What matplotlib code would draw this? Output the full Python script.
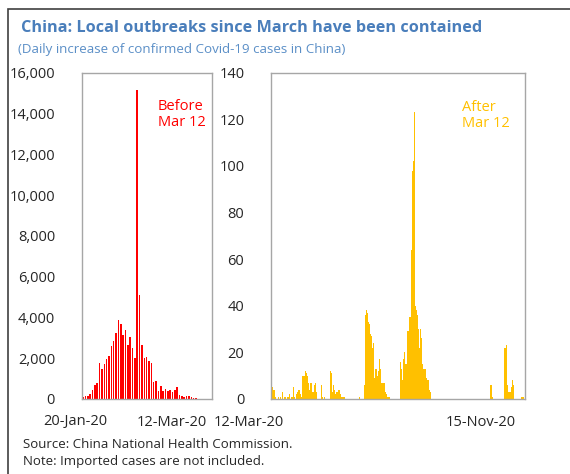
import matplotlib
matplotlib.use("Agg")
import matplotlib.pyplot as plt
from matplotlib.patches import Rectangle
from matplotlib.ticker import FuncFormatter

plt.rcParams['font.family'] = ['Open Sans', 'DejaVu Sans']

# ---- data ----
# Daily increase of confirmed cases, 20-Jan-20 .. 11-Mar-20
before_values = [77, 149, 131, 259, 444, 688, 769, 1771, 1459, 1737, 1982, 2102,
                 2590, 2829, 3235, 3887, 3694, 3143, 3399, 2656, 3062, 2478, 2015,
                 15152, 5090, 2641, 2009, 2048, 1886, 1749, 820, 889, 397, 648, 409,
                 508, 406, 433, 327, 427, 573, 202, 125, 119, 139, 143, 99, 44, 40,
                 19, 24, 15]
# Daily increase of local cases, 12-Mar-20 .. 14-Nov-20 (248 days)
after_values = [
    5, 5, 4, 4, 1, 0, 0, 1, 0, 1, 0, 3, 0, 1, 1, 0, 1, 1, 2, 0,        # 0-19
    1, 1, 5, 1, 0, 2, 3, 4, 4, 2, 1, 10, 10, 12, 11, 10, 7, 4, 7, 7,  # 20-39
    3, 3, 6, 7, 3, 0, 0, 0, 0, 6, 1, 0, 1, 0, 0, 0, 0, 0, 12, 11,    # 40-59
    3, 6, 4, 2, 3, 3, 4, 4, 2, 1, 1, 1, 0, 0, 0, 0, 0, 0, 0, 0,      # 60-79
    0, 0, 0, 0, 0, 0, 1, 0, 0, 0, 0, 6, 36, 38, 37, 33, 32, 28, 27, 22,  # 80-99
    24, 9, 13, 13, 10, 12, 17, 13, 7, 7, 7, 3, 2, 1, 1, 1, 0, 0, 0, 0,   # 100-119
    0, 0, 0, 0, 0, 0, 16, 13, 8, 17, 20, 15, 15, 29, 29, 35, 35, 64, 98, 102,  # 120-139
    123, 40, 38, 36, 30, 22, 30, 26, 15, 13, 13, 9, 8, 8, 4, 3, 0, 0, 0, 0,    # 140-159
    0, 0, 0, 0, 0, 0, 0, 0, 0, 0, 0, 0, 0, 0, 0, 0, 0, 0, 0, 0,      # 160-179
    0, 0, 0, 0, 0, 0, 0, 0, 0, 0, 0, 0, 0, 0, 0, 0, 0, 0, 0, 0,      # 180-199
    0, 0, 0, 0, 0, 0, 0, 0, 0, 0, 0, 0, 0, 0, 6, 6, 1, 0, 0, 0,      # 200-219
    0, 0, 0, 0, 0, 0, 0, 0, 22, 23, 6, 3, 3, 3, 5, 8, 6, 0, 0, 0,    # 220-239
    0, 0, 0, 0, 1, 1, 1, 0,                                          # 240-247
]
left_yticks = [0, 2000, 4000, 6000, 8000, 10000, 12000, 14000, 16000]
right_yticks = [0, 20, 40, 60, 80, 100, 120, 140]

title = "China: Local outbreaks since March have been contained"
subtitle = "(Daily increase of confirmed Covid-19 cases in China)"
left_xlabels = ["20-Jan-20", "12-Mar-20"]
right_xlabels = ["12-Mar-20", "15-Nov-20"]
notes = ["Source: China National Health Commission.",
         "Note: Imported cases are not included."]

# ---- figure ----
W, H = 570, 474
fig = plt.figure(figsize=(W / 100, H / 100), dpi=100)

def fx(px):
    return px / W

def fy(py):
    return 1 - py / H

# outer border (extends beyond the image on the right and bottom)
fig.add_artist(Rectangle((fx(7.5), fy(520)), fx(600), fy(9) - fy(520),
                         transform=fig.transFigure, fill=False,
                         edgecolor='#404040', linewidth=1.2))

title_color = '#4A7EBB'
fig.text(fx(21), fy(28), title, fontsize=11.7, fontweight='bold',
         color=title_color, va='center', ha='left')
fig.text(fx(18), fy(49), subtitle, fontsize=9.6, color='#5B8FC7',
         va='center', ha='left')

spine_color = '#A6A6A6'
tick_fs = 10.5

# left panel
axL = fig.add_axes([fx(81.5), fy(399), fx(212) - fx(81.5), fy(72.7) - fy(399)])
xL = list(range(len(before_values)))
axL.bar(xL, before_values, width=0.65, color='#FF0000', linewidth=0)
axL.set_xlim(-0.7, 54.8)
axL.set_ylim(0, 16000)
axL.set_yticks(left_yticks)
axL.yaxis.set_major_formatter(FuncFormatter(lambda v, p: f"{int(v):,}"))
axL.set_xticks([])

# right panel
axR = fig.add_axes([fx(270.7), fy(399), fx(525) - fx(270.7), fy(72.7) - fy(399)])
xR = list(range(len(after_values)))
axR.bar(xR, after_values, width=1.0, color='#FFC000', linewidth=0)
axR.set_xlim(-0.5, 247.5)
axR.set_ylim(0, 140)
axR.set_yticks(right_yticks)
axR.set_xticks([])

for ax in (axL, axR):
    for s in ax.spines.values():
        s.set_color(spine_color)
        s.set_linewidth(1.0)
    ax.tick_params(axis='y', length=0, pad=19, labelsize=tick_fs,
                   labelcolor='#262626')

# annotation texts placed in pixel space
fig.text(fx(158), fy(99), "Before\nMar 12", color='#FF0000', fontsize=tick_fs,
         va='top', ha='left', linespacing=1.05)
fig.text(fx(462), fy(100), "After\nMar 12", color='#FFC000', fontsize=tick_fs,
         va='top', ha='left', linespacing=1.05)

# x labels
for txt, cx in zip(left_xlabels, [75.5, 171.7]):
    fig.text(fx(cx), fy(422), txt, fontsize=tick_fs, color='#262626',
             ha='center', va='center')
for txt, cx in zip(right_xlabels, [249, 481]):
    fig.text(fx(cx), fy(422), txt, fontsize=tick_fs, color='#262626',
             ha='center', va='center')

# footnotes
fig.text(fx(23), fy(444), notes[0], fontsize=9.5, color='#262626',
         ha='left', va='center')
fig.text(fx(23), fy(462), notes[1], fontsize=9.5, color='#262626',
         ha='left', va='center')

fig.savefig("out.png", dpi=100)
